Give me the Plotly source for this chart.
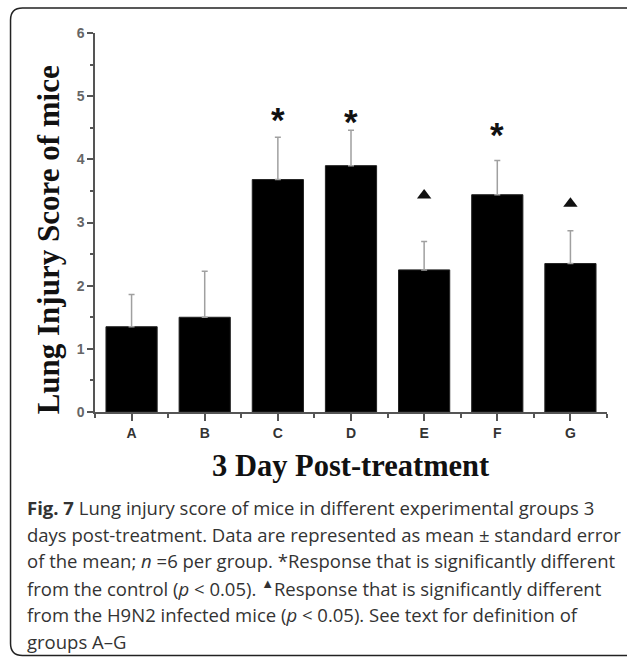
import plotly.graph_objects as go

categories = ["A", "B", "C", "D", "E", "F", "G"]
means = [1.35, 1.50, 3.68, 3.90, 2.25, 3.44, 2.35]
sem = [0.51, 0.73, 0.67, 0.56, 0.45, 0.54, 0.52]
marks = ["", "", "*", "*", "▲", "*", "▲"]
mark_y = [None, None, 4.70, 4.67, 3.43, 4.46, 3.30]
y_ticks = [0, 1, 2, 3, 4, 5, 6]
y_title = "Lung Injury Score of mice"
x_title = "3 Day Post-treatment"
caption_lines = [
    "<b>Fig. 7</b> Lung injury score of mice in different experimental groups 3",
    "days post-treatment. Data are represented as mean ± standard error",
    "of the mean; <i>n</i> =6 per group. *Response that is significantly different",
    "from the control (<i>p</i> < 0.05). <sup>▲</sup>Response that is significantly different",
    "from the H9N2 infected mice (<i>p</i> < 0.05). See text for definition of",
    "groups A–G",
]

W, H = 627, 660
L, R, T, B = 94.5, 20.3, 33, 247.7
pw, ph = W - L - R, H - T - B

def px(x):
    return (x - L) / pw

def py(y):
    return (H - B - y) / ph

xs = list(range(len(categories)))

fig = go.Figure()
fig.add_trace(go.Bar(
    x=xs, y=means, width=0.7,
    marker=dict(color="black", line=dict(color="#222", width=1)),
    error_y=dict(type="data", symmetric=False, array=sem, arrayminus=[0] * len(sem),
                 color="#a0a0a0", thickness=1.5, width=3),
    showlegend=False, hoverinfo="skip",
))

tri_x = [x for x, m in zip(xs, marks) if m == "▲"]
tri_y = [y for y, m in zip(mark_y, marks) if m == "▲"]
fig.add_trace(go.Scatter(
    x=tri_x, y=tri_y, mode="markers",
    marker=dict(symbol="triangle-up", size=12.5, color="#111"),
    showlegend=False, hoverinfo="skip", cliponaxis=False,
))

annotations = []
for x, m, y in zip(xs, marks, mark_y):
    if m == "*":
        annotations.append(dict(
            text="<b>*</b>", x=x, y=y, xref="x", yref="y", showarrow=False,
            xanchor="center", yanchor="middle", yshift=-4,
            font=dict(family="Liberation Sans", size=35, color="#111"),
        ))

annotations += [
    dict(text=f"<b>{y_title}</b>", textangle=-90, xref="paper", yref="paper",
         x=px(48), y=py(240), xanchor="center", yanchor="middle", showarrow=False,
         font=dict(family="Liberation Serif", size=31, color="#111")),
    dict(text=f"<b>{x_title}</b>", xref="paper", yref="paper",
         x=px(350.5), y=py(466), xanchor="center", yanchor="middle", showarrow=False,
         font=dict(family="Liberation Serif", size=30.5, color="#111")),
]
for i, line in enumerate(caption_lines):
    annotations.append(dict(
        text=line, xref="paper", yref="paper", x=px(24), y=py(508 + i * 26.7),
        xanchor="left", yanchor="middle", align="left", showarrow=False,
        font=dict(family="Open Sans", size=18.5, color="#333"),
    ))

# rounded border
x0, x1, y0, y1, r = 10, 640, 8, 656, 12
rx, ry = r / pw, r / ph
X0, X1, Y0, Y1 = px(x0), px(x1), py(y0), py(y1)
path = (f"M {X0+rx},{Y0} L {X1-rx},{Y0} Q {X1},{Y0} {X1},{Y0-ry} "
        f"L {X1},{Y1+ry} Q {X1},{Y1} {X1-rx},{Y1} L {X0+rx},{Y1} "
        f"Q {X0},{Y1} {X0},{Y1+ry} L {X0},{Y0-ry} Q {X0},{Y0} {X0+rx},{Y0} Z")
shapes = [dict(type="path", path=path, xref="paper", yref="paper",
               line=dict(color="#222", width=1.5), layer="below")]

fig.update_layout(
    width=W, height=H,
    margin=dict(l=L, r=R, t=T, b=B, pad=0),
    paper_bgcolor="white", plot_bgcolor="white",
    annotations=annotations, shapes=shapes,
    bargap=0.3,
)
fig.update_xaxes(
    range=[-0.5, 6.5], tickmode="array", tickvals=xs, ticktext=[f"<b>{c}</b>" for c in categories],
    showline=True, linecolor="#555", linewidth=1.5, ticks="outside", ticklen=7,
    tickcolor="#555", tickwidth=1.5, showgrid=False, zeroline=False,
    tickfont=dict(family="Liberation Sans", size=14, color="#333"),
    minor=dict(tickmode="linear", tick0=0.5, dtick=1, ticks="outside", ticklen=4,
               tickcolor="#555", tickwidth=1.5),
)
fig.update_yaxes(
    range=[0, 6], tickmode="array", tickvals=y_ticks, ticktext=[f"<b>{v}</b>" for v in y_ticks],
    showline=True, linecolor="#555", linewidth=1.5, ticks="outside", ticklen=6,
    tickcolor="#555", tickwidth=1.5, showgrid=False, zeroline=False,
    tickfont=dict(family="Liberation Sans", size=14, color="#666"),
    minor=dict(tickmode="linear", tick0=0, dtick=0.5, ticks="outside", ticklen=3,
               tickcolor="#555", tickwidth=1.5),
)

fig.write_html("out.html", config={"displayModeBar": False},
               post_script="document.body.style.margin='0';document.body.style.overflow='hidden';")
